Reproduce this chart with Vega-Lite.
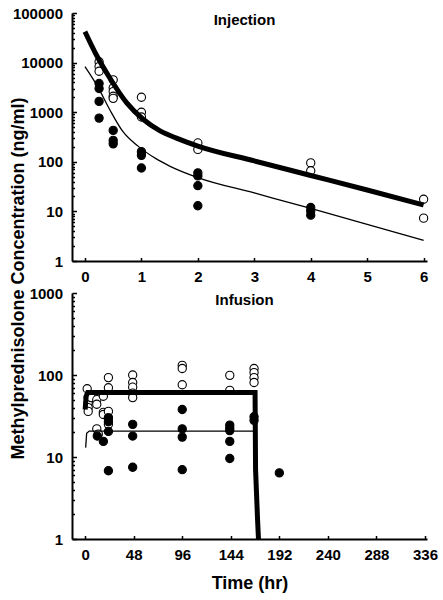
{
  "$schema": "https://vega.github.io/schema/vega-lite/v6.json",
  "background": "white",
  "padding": {"left": 9, "top": 6, "right": 5, "bottom": 5},
  "spacing": 32,
  "bounds": "flush",
  "config": {
    "view": {"stroke": null},
    "font": "Liberation Sans",
    "axis": {
      "domainColor": "black", "domainWidth": 2,
      "tickColor": "black", "tickWidth": 1.5,
      "labelFont": "Liberation Sans", "labelFontSize": 15, "labelFontWeight": "bold", "labelColor": "black",
      "titleFont": "Liberation Sans", "titleFontSize": 18, "titleFontWeight": "bold", "titleColor": "black",
      "grid": false, "labelOverlap": false, "labelFlush": false
    },
    "title": {"font": "Liberation Sans", "fontSize": 15, "fontWeight": "bold", "color": "black"}
  },
  "datasets": {
    "injection_obs": [
      {"time": 0.25, "conc": 10400, "series": "Series 1"},
      {"time": 0.25, "conc": 8300, "series": "Series 1"},
      {"time": 0.25, "conc": 6700, "series": "Series 1"},
      {"time": 0.5, "conc": 4500, "series": "Series 1"},
      {"time": 0.5, "conc": 3100, "series": "Series 1"},
      {"time": 0.5, "conc": 2600, "series": "Series 1"},
      {"time": 0.5, "conc": 2100, "series": "Series 1"},
      {"time": 0.5, "conc": 1900, "series": "Series 1"},
      {"time": 1, "conc": 2000, "series": "Series 1"},
      {"time": 1, "conc": 1000, "series": "Series 1"},
      {"time": 1, "conc": 800, "series": "Series 1"},
      {"time": 2, "conc": 240, "series": "Series 1"},
      {"time": 2, "conc": 178, "series": "Series 1"},
      {"time": 4, "conc": 95, "series": "Series 1"},
      {"time": 4, "conc": 66, "series": "Series 1"},
      {"time": 6, "conc": 17.6, "series": "Series 1"},
      {"time": 6, "conc": 7.3, "series": "Series 1"},
      {"time": 0.25, "conc": 3800, "series": "Series 2"},
      {"time": 0.25, "conc": 3000, "series": "Series 2"},
      {"time": 0.25, "conc": 1650, "series": "Series 2"},
      {"time": 0.25, "conc": 760, "series": "Series 2"},
      {"time": 0.5, "conc": 430, "series": "Series 2"},
      {"time": 0.5, "conc": 270, "series": "Series 2"},
      {"time": 0.5, "conc": 230, "series": "Series 2"},
      {"time": 1, "conc": 160, "series": "Series 2"},
      {"time": 1, "conc": 135, "series": "Series 2"},
      {"time": 1, "conc": 75, "series": "Series 2"},
      {"time": 2, "conc": 60, "series": "Series 2"},
      {"time": 2, "conc": 52, "series": "Series 2"},
      {"time": 2, "conc": 33, "series": "Series 2"},
      {"time": 2, "conc": 13, "series": "Series 2"},
      {"time": 4, "conc": 12, "series": "Series 2"},
      {"time": 4, "conc": 10.2, "series": "Series 2"},
      {"time": 4, "conc": 8.4, "series": "Series 2"}
    ],
    "injection_fit": [
      {"time": 0, "conc": 42000, "series": "Series 1"},
      {"time": 0.2, "conc": 14400, "series": "Series 1"},
      {"time": 0.44, "conc": 4900, "series": "Series 1"},
      {"time": 0.74, "conc": 1540, "series": "Series 1"},
      {"time": 1.03, "conc": 720, "series": "Series 1"},
      {"time": 1.33, "conc": 420, "series": "Series 1"},
      {"time": 1.62, "conc": 300, "series": "Series 1"},
      {"time": 2, "conc": 208, "series": "Series 1"},
      {"time": 3, "conc": 104, "series": "Series 1"},
      {"time": 4, "conc": 53, "series": "Series 1"},
      {"time": 5, "conc": 27, "series": "Series 1"},
      {"time": 6, "conc": 13.5, "series": "Series 1"},
      {"time": 0, "conc": 8300, "series": "Series 2"},
      {"time": 0.23, "conc": 3200, "series": "Series 2"},
      {"time": 0.44, "conc": 1120, "series": "Series 2"},
      {"time": 0.67, "conc": 410, "series": "Series 2"},
      {"time": 0.94, "conc": 207, "series": "Series 2"},
      {"time": 1.25, "conc": 117, "series": "Series 2"},
      {"time": 1.5, "conc": 82, "series": "Series 2"},
      {"time": 2, "conc": 48, "series": "Series 2"},
      {"time": 3, "conc": 23.5, "series": "Series 2"},
      {"time": 4, "conc": 11.5, "series": "Series 2"},
      {"time": 5, "conc": 5.5, "series": "Series 2"},
      {"time": 6, "conc": 2.6, "series": "Series 2"}
    ],
    "infusion_obs": [
      {"time": 2, "conc": 68, "series": "Series 1"},
      {"time": 3, "conc": 53, "series": "Series 1"},
      {"time": 3, "conc": 46, "series": "Series 1"},
      {"time": 3, "conc": 40, "series": "Series 1"},
      {"time": 3, "conc": 36, "series": "Series 1"},
      {"time": 6, "conc": 53, "series": "Series 1"},
      {"time": 11.5, "conc": 50, "series": "Series 1"},
      {"time": 11.5, "conc": 44, "series": "Series 1"},
      {"time": 11.5, "conc": 22, "series": "Series 1"},
      {"time": 13, "conc": 19, "series": "Series 1"},
      {"time": 18, "conc": 55, "series": "Series 1"},
      {"time": 18, "conc": 35, "series": "Series 1"},
      {"time": 18, "conc": 33, "series": "Series 1"},
      {"time": 23, "conc": 93, "series": "Series 1"},
      {"time": 23, "conc": 70, "series": "Series 1"},
      {"time": 23, "conc": 36, "series": "Series 1"},
      {"time": 23, "conc": 30, "series": "Series 1"},
      {"time": 23, "conc": 25, "series": "Series 1"},
      {"time": 47, "conc": 100, "series": "Series 1"},
      {"time": 47, "conc": 81, "series": "Series 1"},
      {"time": 47, "conc": 71, "series": "Series 1"},
      {"time": 47, "conc": 60, "series": "Series 1"},
      {"time": 47, "conc": 53, "series": "Series 1"},
      {"time": 96, "conc": 131, "series": "Series 1"},
      {"time": 96, "conc": 120, "series": "Series 1"},
      {"time": 96, "conc": 76, "series": "Series 1"},
      {"time": 143, "conc": 99, "series": "Series 1"},
      {"time": 143, "conc": 65, "series": "Series 1"},
      {"time": 167, "conc": 120, "series": "Series 1"},
      {"time": 167, "conc": 107, "series": "Series 1"},
      {"time": 167, "conc": 93, "series": "Series 1"},
      {"time": 167, "conc": 81, "series": "Series 1"},
      {"time": 12, "conc": 18, "series": "Series 2"},
      {"time": 18, "conc": 15.5, "series": "Series 2"},
      {"time": 23, "conc": 30, "series": "Series 2"},
      {"time": 23, "conc": 27, "series": "Series 2"},
      {"time": 23, "conc": 20.5, "series": "Series 2"},
      {"time": 23, "conc": 6.8, "series": "Series 2"},
      {"time": 47, "conc": 25, "series": "Series 2"},
      {"time": 47, "conc": 18, "series": "Series 2"},
      {"time": 47, "conc": 7.5, "series": "Series 2"},
      {"time": 96, "conc": 38, "series": "Series 2"},
      {"time": 96, "conc": 22, "series": "Series 2"},
      {"time": 96, "conc": 17.5, "series": "Series 2"},
      {"time": 96, "conc": 7, "series": "Series 2"},
      {"time": 143, "conc": 24.5, "series": "Series 2"},
      {"time": 143, "conc": 22.5, "series": "Series 2"},
      {"time": 143, "conc": 21, "series": "Series 2"},
      {"time": 143, "conc": 15.5, "series": "Series 2"},
      {"time": 143, "conc": 9.6, "series": "Series 2"},
      {"time": 167, "conc": 31, "series": "Series 2"},
      {"time": 167, "conc": 28, "series": "Series 2"},
      {"time": 192, "conc": 6.4, "series": "Series 2"}
    ],
    "infusion_fit": [
      {"time": 0, "conc": 38, "series": "Series 1"},
      {"time": 1, "conc": 55, "series": "Series 1"},
      {"time": 2.5, "conc": 61, "series": "Series 1"},
      {"time": 168, "conc": 61, "series": "Series 1"},
      {"time": 168.5, "conc": 7, "series": "Series 1"},
      {"time": 170.5, "conc": 1.7, "series": "Series 1"},
      {"time": 172.5, "conc": 0.5, "series": "Series 1"},
      {"time": 0.5, "conc": 13, "series": "Series 2"},
      {"time": 1.5, "conc": 19.5, "series": "Series 2"},
      {"time": 4, "conc": 20.7, "series": "Series 2"},
      {"time": 167, "conc": 20.7, "series": "Series 2"}
    ]
  },
  "vconcat": [
    {
      "width": 355,
      "height": 248,
      "title": {"text": "Injection", "offset": -22, "dx": -5},
      "resolve": {"axis": {"x": "independent", "y": "independent"}},
      "layer": [
        {
          "data": {"name": "injection_obs"},
          "mark": {"type": "point", "shape": "circle", "filled": true, "stroke": "black", "strokeWidth": 1.1, "size": 68, "opacity": 1},
          "encoding": {
            "x": {
              "field": "time", "type": "quantitative",
              "scale": {"domain": [-0.23, 6.06], "nice": false, "zero": false},
              "axis": {"orient": "bottom", "values": [0, 1, 2, 3, 4, 5, 6], "title": null, "ticks": false, "labelPadding": 8.5}
            },
            "y": {
              "field": "conc", "type": "quantitative",
              "scale": {"type": "log", "domain": [1, 100000], "nice": false},
              "axis": {
                "orient": "left",
                "values": [1, 10, 100, 1000, 10000, 100000],
                "format": "d",
                "ticks": false,
                "labelPadding": 9.5,
                "title": "Methylprednisolone Concentration (ng/ml)",
                "titleX": -45,
                "titleY": 265
              }
            },
            "fill": {"field": "series", "type": "nominal", "scale": {"domain": ["Series 1", "Series 2"], "range": ["white", "black"]}, "legend": null}
          }
        },
        {
          "data": {"name": "injection_fit"},
          "mark": {"type": "line", "color": "black", "clip": true, "interpolate": "monotone"},
          "encoding": {
            "x": {
              "field": "time", "type": "quantitative",
              "scale": {"domain": [-0.23, 6.06], "nice": false, "zero": false},
              "axis": {"orient": "top", "offset": -248, "values": [0, 1, 2, 3, 4, 5, 6], "title": null, "labels": false, "domain": false, "ticks": true, "tickSize": 3.5}
            },
            "y": {
              "field": "conc", "type": "quantitative",
              "scale": {"type": "log", "domain": [1, 100000], "nice": false},
              "axis": {
                "orient": "right", "offset": -355,
                "values": [1, 2, 3, 4, 5, 6, 7, 8, 9, 10, 20, 30, 40, 50, 60, 70, 80, 90, 100, 200, 300, 400, 500, 600, 700, 800, 900, 1000, 2000, 3000, 4000, 5000, 6000, 7000, 8000, 9000, 10000, 20000, 30000, 40000, 50000, 60000, 70000, 80000, 90000, 100000],
                "labels": false, "domain": false, "title": null, "ticks": true,
                "tickSize": {"condition": {"test": "indexof([1, 10, 100, 1000, 10000, 100000], datum.value) >= 0", "value": 4.5}, "value": 2.5}
              }
            },
            "strokeWidth": {"field": "series", "type": "nominal", "scale": {"domain": ["Series 1", "Series 2"], "range": [5, 1.3]}, "legend": null}
          }
        }
      ]
    },
    {
      "width": 355,
      "height": 246,
      "title": {"text": "Infusion", "offset": -22, "dx": -5},
      "resolve": {"axis": {"x": "independent", "y": "independent"}},
      "layer": [
        {
          "data": {"name": "infusion_obs"},
          "mark": {"type": "point", "shape": "circle", "filled": true, "stroke": "black", "strokeWidth": 1.1, "size": 68, "opacity": 1},
          "encoding": {
            "x": {
              "field": "time", "type": "quantitative",
              "scale": {"domain": [-13, 338], "nice": false, "zero": false},
              "axis": {"orient": "bottom", "values": [0, 48, 96, 144, 192, 240, 288, 336], "title": "Time (hr)", "ticks": false, "labelPadding": 8.5, "titlePadding": 12}
            },
            "y": {
              "field": "conc", "type": "quantitative",
              "scale": {"type": "log", "domain": [1, 1000], "nice": false},
              "axis": {
                "orient": "left",
                "values": [1, 10, 100, 1000],
                "format": "d",
                "ticks": false,
                "labelPadding": 9.5,
                "title": null
              }
            },
            "fill": {"field": "series", "type": "nominal", "scale": {"domain": ["Series 1", "Series 2"], "range": ["white", "black"]}, "legend": null}
          }
        },
        {
          "data": {"name": "infusion_fit"},
          "mark": {"type": "line", "color": "black", "clip": true},
          "encoding": {
            "x": {
              "field": "time", "type": "quantitative",
              "scale": {"domain": [-13, 338], "nice": false, "zero": false},
              "axis": {"orient": "top", "offset": -246, "values": [0, 48, 96, 144, 192, 240, 288, 336], "title": null, "labels": false, "domain": false, "ticks": true, "tickSize": 3.5}
            },
            "y": {
              "field": "conc", "type": "quantitative",
              "scale": {"type": "log", "domain": [1, 1000], "nice": false},
              "axis": {
                "orient": "right", "offset": -355,
                "values": [1, 2, 3, 4, 5, 6, 7, 8, 9, 10, 20, 30, 40, 50, 60, 70, 80, 90, 100, 200, 300, 400, 500, 600, 700, 800, 900, 1000],
                "labels": false, "domain": false, "title": null, "ticks": true,
                "tickSize": {"condition": {"test": "indexof([1, 10, 100, 1000], datum.value) >= 0", "value": 4.5}, "value": 2.5}
              }
            },
            "strokeWidth": {"field": "series", "type": "nominal", "scale": {"domain": ["Series 1", "Series 2"], "range": [5, 1.3]}, "legend": null}
          }
        }
      ]
    }
  ]
}
